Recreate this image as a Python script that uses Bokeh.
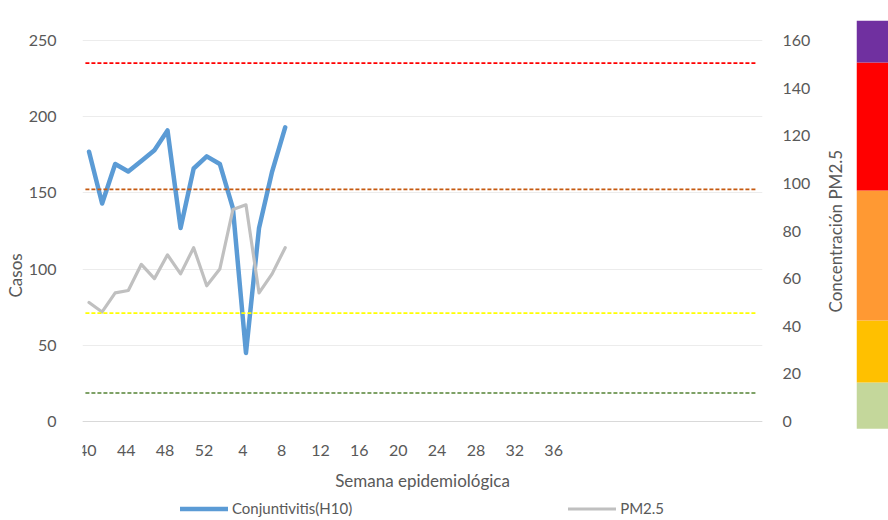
import math
from bokeh.plotting import figure
from bokeh.models import (Range1d, LinearAxis, FixedTicker, Legend, LegendItem, Title, Grid)
from bokeh.layouts import row
from bokeh.embed import file_html
from bokeh.resources import INLINE

# ---------------- data ----------------
line_weeks = ["40", "41", "42", "43", "44", "45", "46", "47", "48", "49", "50", "51", "52", "1", "2", "3"]
conjuntivitis = [177, 143, 169, 164, 171, 178, 191, 127, 166, 174, 169, 140, 45, 127, 164, 193]
pm25 = [50, 46, 54, 55, 66, 60, 70, 62, 73, 57, 64, 89, 91, 54, 62, 73]

axis_tick_labels = ["40", "44", "48", "52", "4", "8", "12", "16", "20", "24", "28", "32", "36"]
axis_tick_every = 4
n_axis_categories = 70      # categories of the labelled (primary) x axis
n_line_categories = 52      # categories of the (hidden) axis carrying the lines

thresholds = [150.5, 97.5, 45.5, 12]
threshold_colors = ["#ff0000", "#c55a11", "#ffff00", "#548235"]

band_edges = [-3, 16.4, 42.4, 97, 150.8, 168.4]
band_colors = ["#c4d79b", "#ffc000", "#ff9933", "#ff0000", "#7030a0"]

left_max, right_max = 250, 160

FONT = "Lato"
TXT = "#595959"

# ---------------- layout constants (page pixels) ----------------
FRAME_L, FRAME_W = 82, 680
AXIS_TOP, AXIS_BOTTOM = 40, 421       # where the 250 / 0 ticks sit
BAR_TOP = 20                          # top of colour scale bar == top of plotting frame
PAGE_BOTTOM = 518                     # frame runs to the bottom so the legend fits inside it
BAR_W = 34

span = AXIS_BOTTOM - AXIS_TOP
top_ext = (AXIS_BOTTOM - BAR_TOP) / span
bot_ext = (PAGE_BOTTOM - AXIS_BOTTOM) / span
FRAME_H = PAGE_BOTTOM - BAR_TOP

# ---------------- main figure ----------------
p = figure(frame_width=FRAME_W, frame_height=FRAME_H, min_border_left=FRAME_L, min_border_top=BAR_TOP,
           min_border_right=0, min_border_bottom=0,
           x_range=Range1d(0, n_axis_categories),
           y_range=Range1d(-left_max * bot_ext, left_max * top_ext),
           output_backend="svg", toolbar_location=None, x_axis_location=None,
           y_axis_location=None)
p.outline_line_color = None
p.background_fill_color = "white"
p.border_fill_color = "white"

pm_range = Range1d(-right_max * bot_ext, right_max * top_ext)
p.extra_x_ranges = {"lines": Range1d(0, n_line_categories)}
p.extra_y_ranges = {"pm": pm_range}

# x axis drawn at y = 0 inside the (taller) frame
xaxis = LinearAxis(fixed_location=0,
                   ticker=FixedTicker(ticks=[i * axis_tick_every + 0.5 for i in range(len(axis_tick_labels))]))
xaxis.major_label_overrides = {i * axis_tick_every + 0.5: lab for i, lab in enumerate(axis_tick_labels)}
xaxis.axis_label = "Semana epidemiológica"
p.add_layout(xaxis, "below")

yaxis = LinearAxis(ticker=FixedTicker(ticks=list(range(0, left_max + 1, 50))))
p.add_layout(yaxis, "left")

yaxis2 = LinearAxis(y_range_name="pm", ticker=FixedTicker(ticks=list(range(0, right_max + 1, 20))))
p.add_layout(yaxis2, "right")

for ax in (xaxis, yaxis, yaxis2):
    ax.major_tick_line_color = None
    ax.minor_tick_line_color = None
    ax.major_tick_out = 0
    ax.major_tick_in = 0
    ax.minor_tick_out = 0
    ax.minor_tick_in = 0
    ax.major_label_text_font = FONT
    ax.major_label_text_font_size = "16px"
    ax.major_label_text_color = TXT
    ax.axis_label_text_font = FONT
    ax.axis_label_text_font_size = "17px"
    ax.axis_label_text_font_style = "normal"
    ax.axis_label_text_color = TXT
xaxis.axis_line_color = "#d9d9d9"
xaxis.major_label_standoff = 23
xaxis.axis_label_standoff = 11
yaxis.axis_line_color = None
yaxis.major_label_standoff = 26
yaxis2.axis_line_color = None
yaxis2.major_label_standoff = 20

p.ygrid.grid_line_color = None
p.xgrid.grid_line_color = None
p.add_layout(Grid(dimension=1, ticker=yaxis.ticker, grid_line_color="#ececec"))

lx = [i + 0.5 for i in range(len(line_weeks))]
r_conj = p.line(lx, conjuntivitis, x_range_name="lines", line_color="#5b9bd5", line_width=4.5,
                line_join="round", line_cap="round")
r_pm = p.line(lx, pm25, x_range_name="lines", y_range_name="pm", line_color="#c0c0c0", line_width=3.2,
              line_join="round", line_cap="round")

for t, c in zip(thresholds, threshold_colors):
    p.segment(x0=0.3, x1=n_axis_categories - 0.7, y0=t, y1=t, y_range_name="pm",
              line_color=c, line_width=1.6, line_dash="4 2")

# left axis title, offset downwards as in the original
p.add_layout(Title(text="Casos", align="left", offset=221, standoff=0,
                   text_font=FONT, text_font_size="17px", text_font_style="normal",
                   text_color=TXT), "left")

legend = Legend(items=[LegendItem(label="Conjuntivitis(H10)", renderers=[r_conj]),
                       LegendItem(label="PM2.5", renderers=[r_pm])],
                orientation="horizontal", location=(98, 1),
                spacing=216, glyph_width=48, glyph_height=15, label_height=15,
                label_standoff=4, padding=0, margin=0, border_line_alpha=0, background_fill_alpha=0,
                label_text_font=FONT, label_text_font_size="15px", label_text_color=TXT)
p.add_layout(legend, "center")

# ---------------- colour scale bar (with the right-hand axis title) ----------------
b = figure(frame_width=BAR_W, frame_height=FRAME_H, min_border_left=40, min_border_right=0,
           min_border_top=BAR_TOP, min_border_bottom=0,
           x_range=Range1d(0, 1), y_range=pm_range,
           output_backend="svg", toolbar_location=None, x_axis_location=None, y_axis_location=None)
b.outline_line_color = None
b.grid.grid_line_color = None
b.background_fill_color = "white"
b.border_fill_color = "white"
b.quad(left=0, right=1, bottom=band_edges[:-1], top=band_edges[1:], fill_color=band_colors, line_color=None)
b.add_layout(Title(text="Concentración PM2.5", align="left", offset=206, standoff=20,
                   vertical_align="middle",
                   text_font=FONT, text_font_size="17px", text_font_style="normal",
                   text_color=TXT), "left")

layout = row(p, b, spacing=0)
open("out.html", "w").write(file_html(layout, INLINE))
